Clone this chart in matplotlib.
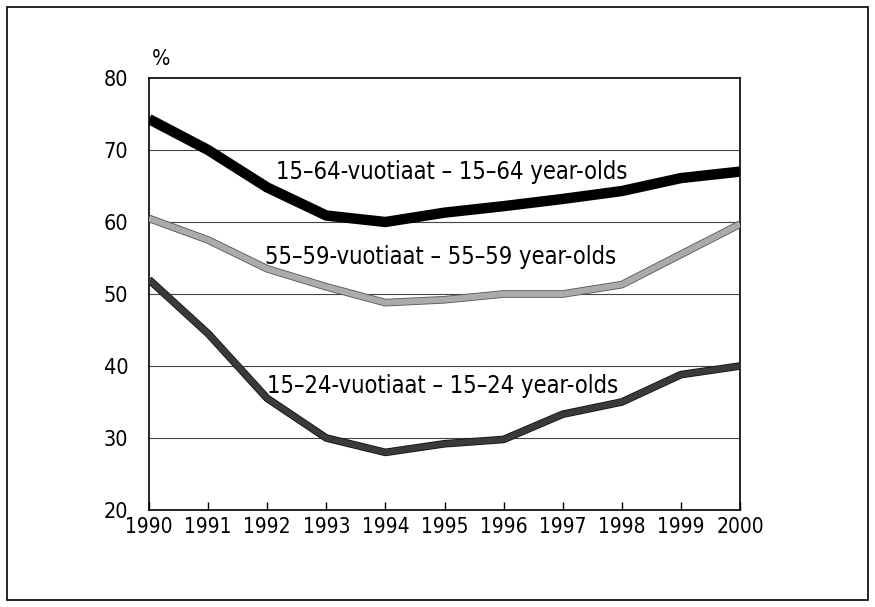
import matplotlib
matplotlib.use("Agg")
import matplotlib.pyplot as plt
import matplotlib.patheffects as pe
from matplotlib.patches import Rectangle

years = [1990, 1991, 1992, 1993, 1994, 1995, 1996, 1997, 1998, 1999, 2000]
age_15_64 = [74.3, 70.0, 64.8, 60.9, 60.0, 61.3, 62.2, 63.2, 64.3, 66.1, 67.0]
age_55_59 = [60.5, 57.5, 53.5, 51.0, 48.8, 49.2, 50.0, 50.0, 51.3, 55.5, 59.7]
age_15_24 = [52.0, 44.5, 35.5, 30.0, 28.0, 29.2, 29.8, 33.3, 35.0, 38.8, 40.0]
yticks = [20, 30, 40, 50, 60, 70, 80]
labels = ["15\u201364-vuotiaat \u2013 15\u201364 year-olds",
          "55\u201359-vuotiaat \u2013 55\u201359 year-olds",
          "15\u201324-vuotiaat \u2013 15\u201324 year-olds"]

plt.rcParams['font.family'] = ['DejaVu Sans']
plt.rcParams['font.stretch'] = 'condensed'

fig = plt.figure(figsize=(8.75, 6.07), dpi=100)
W, H = 875, 607
ax = fig.add_axes([149 / W, 1 - 510 / H, (740 - 149) / W, (510 - 78) / H])

fig.patches.append(Rectangle((7 / W, 7 / H), (868 - 7) / W, (600 - 7) / H,
                             transform=fig.transFigure, fill=False,
                             edgecolor='black', linewidth=1.2))

for yv in [30, 40, 50, 60, 70]:
    ax.axhline(yv, color='#444444', linewidth=0.8, zorder=1)

ax.plot(years, age_15_64, color='black', linewidth=7.5, solid_capstyle='butt', zorder=3)
ax.plot(years, age_55_59, color='#ababab', linewidth=4.3, solid_capstyle='butt', zorder=3,
        path_effects=[pe.Stroke(linewidth=5.5, foreground='#555555'), pe.Normal()])
ax.plot(years, age_15_24, color='#3a3a3a', linewidth=4.3, solid_capstyle='butt', zorder=3,
        path_effects=[pe.Stroke(linewidth=5.5, foreground='#111111'), pe.Normal()])

ax.set_xlim(1990, 2000)
ax.set_ylim(20, 80)
ax.set_xticks(years)
ax.set_xticklabels([str(y) for y in years])
ax.set_yticks(yticks)
ax.tick_params(axis='x', direction='in', length=6, labelsize=15, pad=5, width=1)
ax.tick_params(axis='y', length=0, labelsize=15.5, pad=15)
for s in ax.spines.values():
    s.set_linewidth(1.2)

ax.text(1995.13, 66.9, labels[0], fontsize=17, ha='center', va='center', zorder=4)
ax.text(1994.94, 55.1, labels[1], fontsize=17, ha='center', va='center', zorder=4)
ax.text(1994.96, 37.2, labels[2], fontsize=17, ha='center', va='center', zorder=4)
ax.text(1990.05, 81.3, "%", fontsize=15.5, ha='left', va='bottom')

fig.savefig("out.png", dpi=100)
